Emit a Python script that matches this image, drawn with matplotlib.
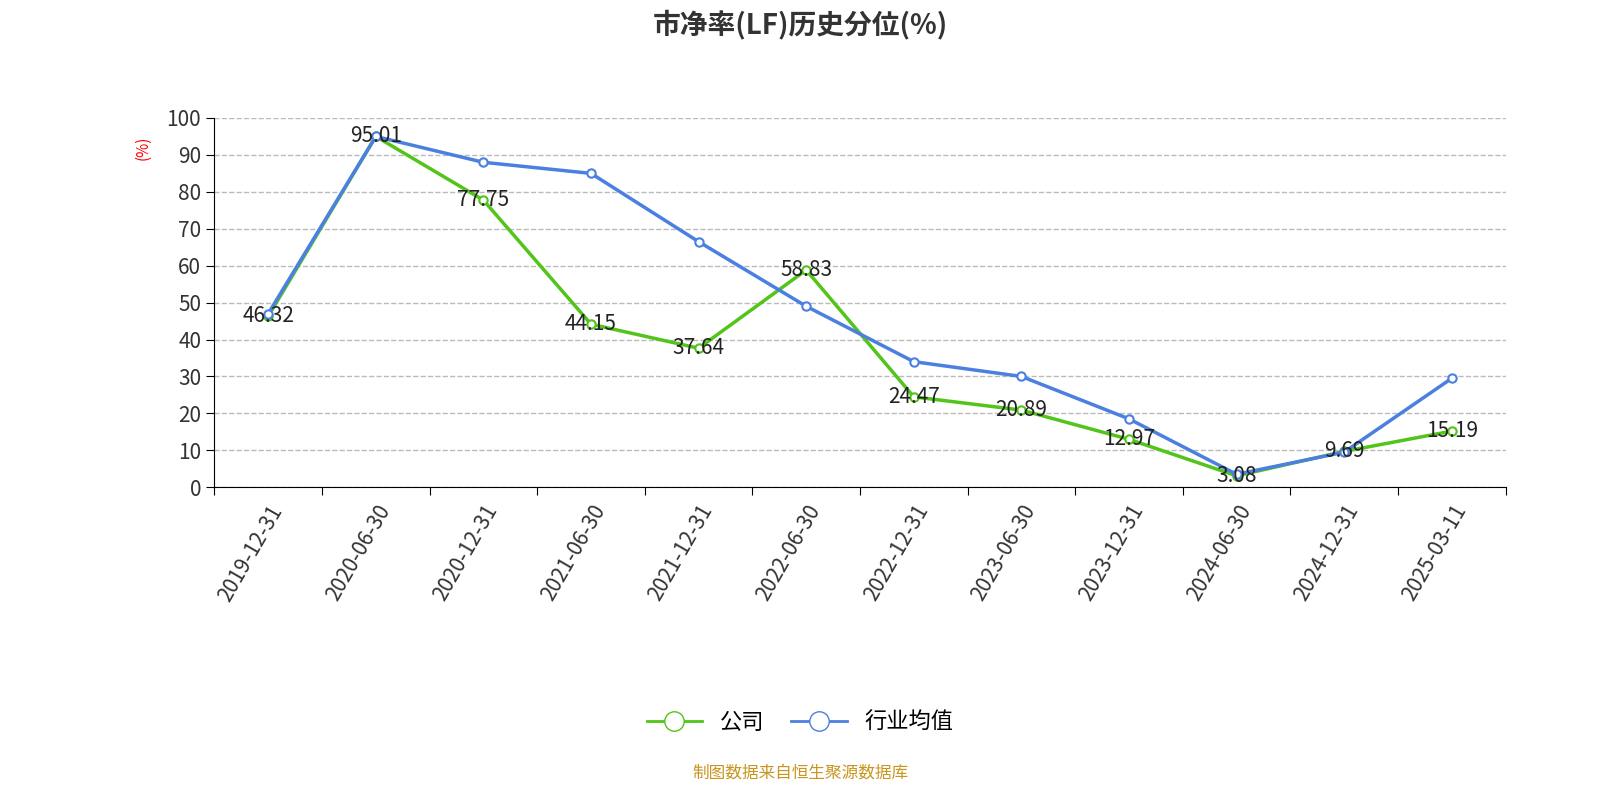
import matplotlib
matplotlib.use("Agg")
import matplotlib.pyplot as plt
from matplotlib import font_manager
from matplotlib.lines import Line2D

cjk = [f.name for f in font_manager.fontManager.ttflist if "CJK" in f.name or "CJK" in f.fname]
cjk_name = "Noto Sans CJK SC" if "Noto Sans CJK SC" in cjk else (cjk[0] if cjk else "DejaVu Sans")
plt.rcParams["font.family"] = [cjk_name, "DejaVu Sans"]

dates = ["2019-12-31", "2020-06-30", "2020-12-31", "2021-06-30", "2021-12-31", "2022-06-30",
         "2022-12-31", "2023-06-30", "2023-12-31", "2024-06-30", "2024-12-31", "2025-03-11"]
company = [46.32, 95.01, 77.75, 44.15, 37.64, 58.83, 24.47, 20.89, 12.97, 3.08, 9.69, 15.19]
industry = [47.0, 95.0, 88.0, 85.0, 66.5, 49.0, 34.0, 30.0, 18.5, 3.5, 9.5, 29.5]

green = "#52c41a"
blue = "#4b7fe0"

fig = plt.figure(figsize=(16, 8), dpi=100)
ax = fig.add_axes([0.134, 0.391, 0.807, 0.4615])

x = [i + 0.5 for i in range(len(dates))]
ax.plot(x, company, color=green, lw=2.5, marker="o", ms=6, mfc="white", mec=green, mew=1.5, zorder=3)
ax.plot(x, industry, color=blue, lw=2.5, marker="o", ms=6, mfc="white", mec=blue, mew=1.5, zorder=4)
for xi, v in zip(x, company):
    ax.text(xi, v, f"{v:.2f}", ha="center", va="center", fontsize=15, color="#222", zorder=5)

ax.set_xlim(0, len(dates))
ax.set_ylim(0, 100)
ax.set_yticks(range(0, 101, 10))
ax.set_xticks(range(len(dates) + 1))
ax.set_xticklabels([])
ax.set_xticks(x, minor=True)
ax.set_xticklabels(dates, minor=True, rotation=60, ha="right", rotation_mode="anchor", fontsize=15, color="#333")
ax.tick_params(axis="x", which="minor", length=0, pad=10)
ax.tick_params(axis="x", which="major", length=6)
ax.tick_params(axis="y", labelsize=15, labelcolor="#333", length=6)
ax.grid(axis="y", ls="--", color="#bbb", lw=1)
for s in ["top", "right"]:
    ax.spines[s].set_visible(False)
ax.text(-0.055, 0.92, "(%)", transform=ax.transAxes, rotation=90, color="red", fontsize=11, ha="center", va="center")

fig.text(0.5, 0.97, "市净率(LF)历史分位(%)", ha="center", va="center", fontsize=20, fontweight="bold", color="#333")
handles = [Line2D([], [], color=green, lw=2, marker="o", ms=14, mfc="white", mec=green),
           Line2D([], [], color=blue, lw=2, marker="o", ms=14, mfc="white", mec=blue)]
fig.legend(handles, ["公司", "行业均值"], loc="center", bbox_to_anchor=(0.5, 0.097), ncol=2,
           frameon=False, fontsize=16, handlelength=2.5, columnspacing=1.2)
fig.text(0.5, 0.034, "制图数据来自恒生聚源数据库", ha="center", va="center", fontsize=12, color="#c8961e")
fig.savefig("out.png")
